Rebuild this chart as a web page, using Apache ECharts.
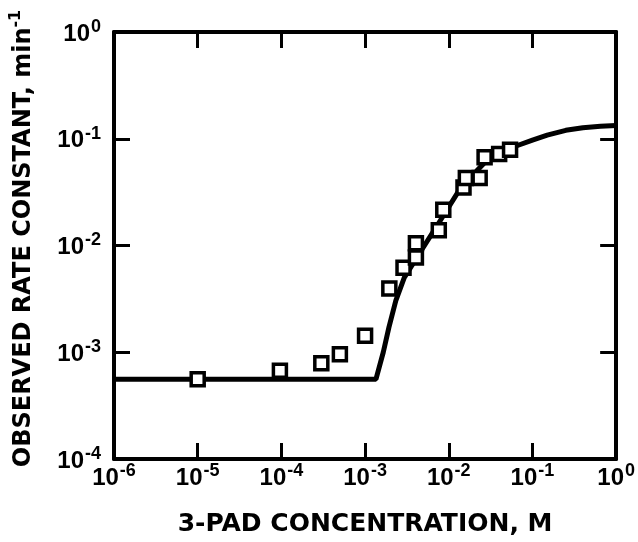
<!DOCTYPE html>
<html>
<head>
<meta charset="utf-8">
<script src="https://cdn.jsdelivr.net/npm/echarts@6/dist/echarts.min.js"></script>
<style>
html, body { margin: 0; padding: 0; background: #fff; }
#main { width: 638px; height: 542px; }
</style>
</head>
<body>
<div id="main"></div>
<script>
// measured points (3-PAD conc, M / k obs, min-1)
var concX = [1e-5, 9.6e-5, 3.0e-4, 5.0e-4, 1.0e-3, 1.95e-3, 2.88e-3, 4.05e-3, 4.05e-3, 7.6e-3, 8.6e-3, 1.5e-2, 1.6e-2, 2.34e-2, 2.68e-2, 4.0e-2, 5.4e-2];
var rateY = [5.6e-4, 6.7e-4, 7.9e-4, 9.6e-4, 1.43e-3, 3.95e-3, 6.2e-3, 7.7e-3, 1.05e-2, 1.39e-2, 2.16e-2, 3.5e-2, 4.3e-2, 4.3e-2, 6.7e-2, 7.2e-2, 7.9e-2];

// fitted curve
var curveX = [1e-6, 1.35e-3, 1.65e-3, 1.93e-3, 2.33e-3, 2.94e-3, 4.5e-3, 7.5e-3, 1.3e-2, 2.0e-2, 2.8e-2, 4.5e-2, 6.5e-2, 0.1, 0.15, 0.25, 0.4, 0.65, 1];
var curveY = [5.6e-4, 5.6e-4, 1.0e-3, 1.72e-3, 3.04e-3, 5.0e-3, 8.5e-3, 1.6e-2, 3.2e-2, 4.7e-2, 6.2e-2, 7.6e-2, 8.6e-2, 0.097, 0.108, 0.12, 0.127, 0.131, 0.133];

function pairs(a, b) {
	var out = [];
	for (var i = 0; i < a.length; i++) {
		out.push([a[i], b[i]]);
	}
	return out;
}

// 10^n tick labels
function powLabel(v) {
	var e = Math.round(Math.log(v) / Math.LN10);
	return '{b|10}{s|' + e + '}';
}

var font = '"Liberation Sans", Arial, sans-serif';
var titleFont = '"DejaVu Sans", sans-serif';
var labelRich = {
	b: { fontSize: 24, fontWeight: 'bold', fontFamily: font, color: '#000', lineHeight: 28, verticalAlign: 'bottom' },
	s: { fontSize: 18, fontWeight: 'bold', fontFamily: font, color: '#000', lineHeight: 28, verticalAlign: 'top', padding: [0, 0, 0, 1] }
};
function tickLabel(margin) {
	return {
		formatter: powLabel, rich: labelRich, margin: margin,
		fontSize: 24, fontWeight: 'bold', fontFamily: font, color: '#000'
	};
}

var axisLine = { show: true, lineStyle: { color: '#000', width: 4 } };
var tick = { show: true, inside: true, length: 16, lineStyle: { color: '#000', width: 3 } };

var myChart = echarts.init(document.getElementById('main'));

var option = {
	backgroundColor: '#fff',
	animation: false,
	grid: { left: 114, right: 19, top: 32, bottom: 82 },
	xAxis: [{
		type: 'log', logBase: 10, min: 1e-6, max: 1, interval: 1,
		position: 'bottom',
		axisLine: axisLine, axisTick: tick,
		splitLine: { show: false }, minorTick: { show: false },
		axisLabel: tickLabel(3),
		name: '3-PAD CONCENTRATION, M',
		nameLocation: 'middle', nameGap: 53,
		nameTextStyle: { fontSize: 25, fontWeight: 'bold', fontFamily: titleFont, color: '#000' }
	}, {
		type: 'log', logBase: 10, min: 1e-6, max: 1, interval: 1,
		position: 'top',
		axisLine: axisLine, axisTick: tick,
		splitLine: { show: false }, axisLabel: { show: false }
	}],
	yAxis: [{
		type: 'log', logBase: 10, min: 1e-4, max: 1, interval: 1,
		position: 'left',
		axisLine: axisLine, axisTick: tick,
		splitLine: { show: false }, minorTick: { show: false },
		axisLabel: tickLabel(13),
		name: '{t|OBSERVED RATE CONSTANT, min}{u|-1}',
		nameLocation: 'middle', nameGap: 78, nameRotate: 90,
		nameTextStyle: {
			padding: [0, 0, 0, 14],
			rich: {
				t: { fontSize: 24, fontWeight: 'bold', fontFamily: titleFont, color: '#000', lineHeight: 28, verticalAlign: 'bottom' },
				u: { fontSize: 16, fontWeight: 'bold', fontFamily: titleFont, color: '#000', lineHeight: 28, verticalAlign: 'top' }
			}
		}
	}, {
		type: 'log', logBase: 10, min: 1e-4, max: 1, interval: 1,
		position: 'right',
		axisLine: axisLine, axisTick: tick,
		splitLine: { show: false }, axisLabel: { show: false }
	}],
	series: [{
		name: 'fit',
		type: 'line',
		data: pairs(curveX, curveY),
		showSymbol: false,
		smooth: false,
		lineStyle: { color: '#000', width: 5 },
		z: 2
	}, {
		name: 'observed',
		type: 'scatter',
		data: pairs(concX, rateY),
		symbol: 'rect',
		symbolSize: 13,
		itemStyle: { color: '#fff', borderColor: '#000', borderWidth: 3.5, opacity: 1 },
		z: 3
	}]
};

myChart.setOption(option);
</script>
</body>
</html>
